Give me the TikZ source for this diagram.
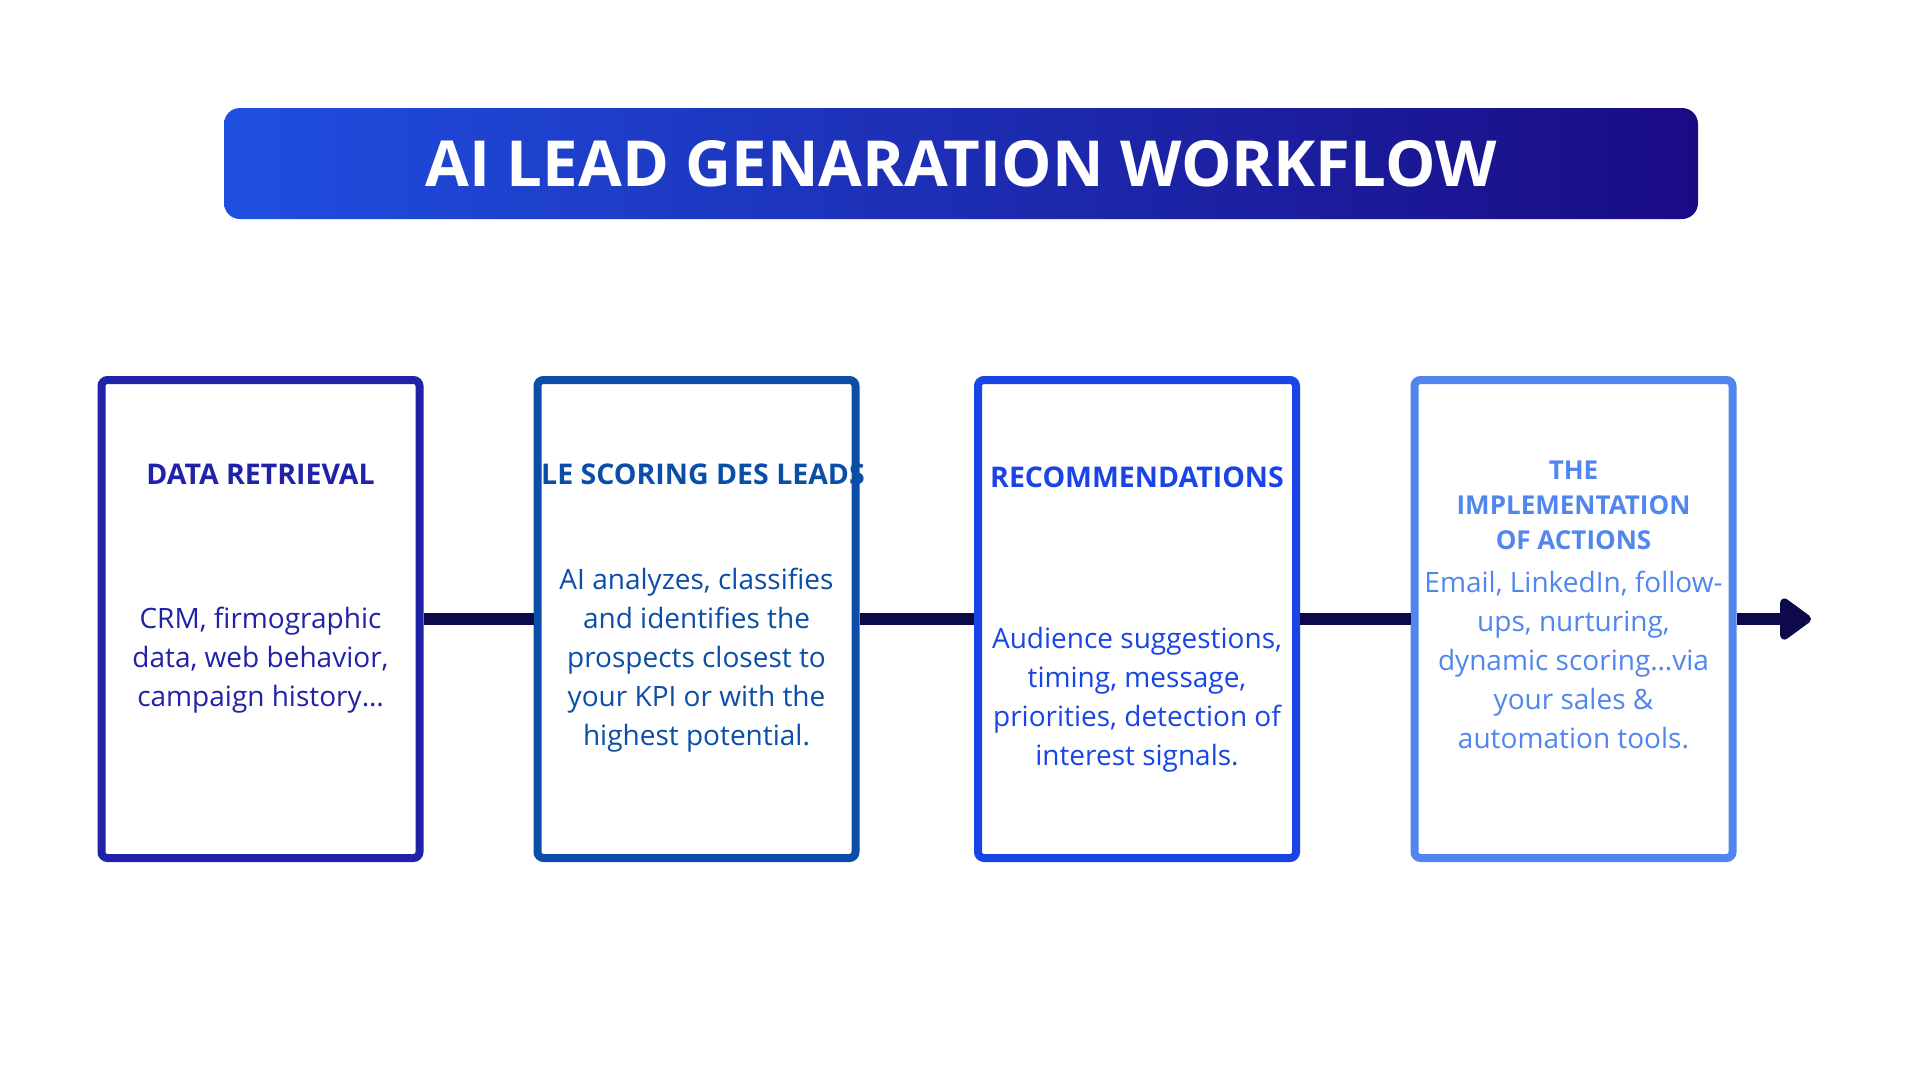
\documentclass[tikz,border=0pt]{standalone}
\usepackage{fontspec}
\setmainfont{Open Sans}
\usetikzlibrary{arrows.meta}
\definecolor{c1}{HTML}{2023A8}
\definecolor{c2}{HTML}{0B4EA8}
\definecolor{c3}{HTML}{1A45E6}
\definecolor{c4}{HTML}{5086EE}
\definecolor{navy}{HTML}{0C0A4A}
\definecolor{gradl}{HTML}{1F4FE0}
\definecolor{gradr}{HTML}{1A0B85}
\begin{document}
\begin{tikzpicture}[x=1pt, y=-1pt,
    main/.style = {draw=#1, line width=8pt, rounded corners=6pt, fill=white, minimum width=318pt, minimum height=478pt, inner sep=0pt},
    head/.style = {inner sep=0pt, text=#1, font=\fontsize{28.5}{35}\selectfont\bfseries},
    body/.style = {align=center, inner sep=0pt, text=#1, font=\fontsize{28}{39}\selectfont},
    link/.style = {draw=navy, line width=12pt}]
    \path[fill=white] (0,0) rectangle (1920,1080);
    \useasboundingbox (0,0) rectangle (1920,1080);

    % Titolo
    \node[shade, left color=gradl, right color=gradr, rounded corners=16pt, minimum width=1474pt, minimum height=111pt, inner sep=0pt, text=white, font=\fontsize{63.5}{70}\selectfont\bfseries] (title) at (961,163.5) {AI LEAD GENARATION WORKFLOW};

    % Disegna i riquadri
    \node[main=c1] (1) at (260.5, 619) {};
    \node[main=c2] (2) at (696.5, 619) {};
    \node[main=c3] (3) at (1137, 619) {};
    \node[main=c4] (4) at (1573.5, 619) {};
    \coordinate (tip) at (1811, 619);

    \draw[link] (1) -- (2);
    \draw[link] (2) -- (3);
    \draw[link] (3) -- (4);
    \draw[link, -{Triangle[length=34pt, width=47pt, round]}] (4) -- (tip);

    \node[head=c1, anchor=base] (h1) at (260.5, 484) {DATA RETRIEVAL};
    \node[head=c2, anchor=base] (h2) at (703, 484) {LE SCORING DES LEADS};
    \node[head=c3, anchor=base] (h3) at (1137, 487) {RECOMMENDATIONS};
    \node[head=c4, align=center, font=\fontsize{26}{35}\selectfont\bfseries] (h4) at (1573.5, 505) {THE\\IMPLEMENTATION\\OF ACTIONS};

    \node[body=c1] (d1) at (260.5, 660) {CRM, firmographic\\data, web behavior,\\campaign history…};
    \node[body=c2] (d2) at (696.5, 660) {AI analyzes, classifies\\and identifies the\\prospects closest to\\your KPI or with the\\highest potential.};
    \node[body=c3] (d3) at (1137, 700) {Audience suggestions,\\timing, message,\\priorities, detection of\\interest signals.};
    \node[body=c4] (d4) at (1573.5, 660) {Email, LinkedIn, follow-\\ups, nurturing,\\dynamic scoring…via\\your sales \&\\automation tools.};

\end{tikzpicture}
\end{document}
